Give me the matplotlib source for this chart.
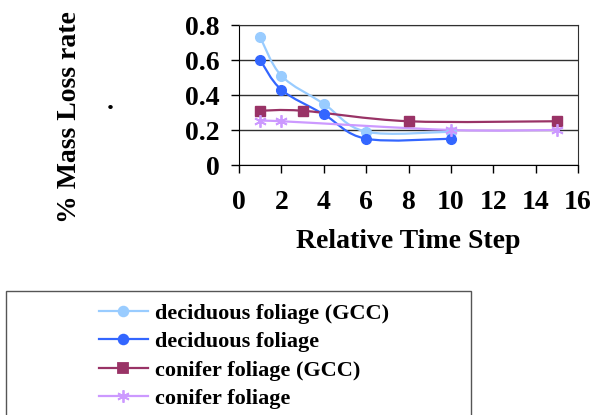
import matplotlib
matplotlib.use('Agg')
import matplotlib.pyplot as plt
import numpy as np
from matplotlib.path import Path
from matplotlib.patches import PathPatch, Rectangle
from matplotlib.lines import Line2D

plt.rcParams['font.family'] = 'Liberation Serif'
plt.rcParams['font.weight'] = 'bold'

# Mass loss rate per relative time step
dec_gcc_x = [1, 2, 4, 6, 10]
dec_gcc_y = [0.73, 0.51, 0.35, 0.19, 0.19]
dec_x = [1, 2, 4, 6, 10]
dec_y = [0.60, 0.43, 0.29, 0.15, 0.15]
con_gcc_x = [1, 3, 8, 15]
con_gcc_y = [0.31, 0.31, 0.25, 0.25]
con_x = [1, 2, 10, 15]
con_y = [0.25, 0.25, 0.20, 0.20]

labels = ['deciduous foliage (GCC)', 'deciduous foliage',
          'conifer foliage (GCC)', 'conifer foliage']
colors = ['#99CCFF', '#3366FF', '#993366', '#CC99FF']
markers = ['o', 'o', 's', (6, 2, 0)]
msizes = [7, 7, 6.5, 9]


def smooth_path(x, y):
    # Catmull-Rom style bezier through the points (like spreadsheet smoothed lines)
    pts = np.column_stack([x, y]).astype(float)
    n = len(pts)
    verts = [pts[0]]
    codes = [Path.MOVETO]
    for i in range(n - 1):
        p0 = pts[i - 1] if i > 0 else pts[i]
        p1 = pts[i]
        p2 = pts[i + 1]
        p3 = pts[i + 2] if i + 2 < n else pts[i + 1]
        c1 = p1 + (p2 - p0) / 6.0
        c2 = p2 - (p3 - p1) / 6.0
        verts += [c1, c2, p2]
        codes += [Path.CURVE4] * 3
    return Path(verts, codes)


fig = plt.figure(figsize=(5.95, 4.15), dpi=100)
ax = fig.add_axes([239 / 595, 1 - 165 / 415, 339 / 595, 140 / 415])

series = [(dec_gcc_x, dec_gcc_y), (dec_x, dec_y), (con_gcc_x, con_gcc_y), (con_x, con_y)]
handles = []
for (xs, ys), c, m, ms, lab in zip(series, colors, markers, msizes, labels):
    ax.add_patch(PathPatch(smooth_path(xs, ys), facecolor='none', edgecolor=c, lw=1.6, zorder=3))
    if m == (6, 2, 0):
        ax.plot(xs, ys, linestyle='none', marker=m, ms=ms, mec=c, mew=1.3, zorder=4)
    else:
        ax.plot(xs, ys, linestyle='none', marker=m, ms=ms, mfc=c, mec=c, zorder=4)
    handles.append(Line2D([], [], color=c, lw=1.6, marker=m, ms=ms, mfc=c, mec=c, mew=1.3))

ax.set_xlim(0, 16)
ax.set_ylim(0, 0.8)
ax.set_xticks(np.arange(0, 17, 2))
ax.set_yticks([0, 0.2, 0.4, 0.6, 0.8])
ax.set_yticklabels(['0', '0.2', '0.4', '0.6', '0.8'])
ax.yaxis.grid(True, color='#303030', lw=1)
ax.set_axisbelow(True)
ax.tick_params(direction='out', length=6, width=1, labelsize=20, color='black')
ax.tick_params(axis='x', pad=12)
ax.tick_params(axis='y', pad=8)
for s in ax.spines.values():
    s.set_color('#303030')
ax.spines['left'].set_color('black')
ax.spines['bottom'].set_color('black')

ax.set_xlabel('Relative Time Step', fontsize=20, fontweight='bold', labelpad=10)
fig.text(70 / 595, 1 - 117 / 415, '% Mass Loss rate', rotation=90, fontsize=20,
         fontweight='bold', ha='center', va='center')
fig.text(110 / 595, 1 - 115 / 415, '.', fontsize=20, fontweight='bold', ha='center', va='bottom')

# legend box runs off the bottom of the figure
fig.patches.append(Rectangle((6 / 595, -0.1), 465 / 595, 0.1 + 1 - 291 / 415,
                             transform=fig.transFigure, facecolor='white',
                             edgecolor='#555555', lw=1))
fig.legend(handles, labels, loc='upper left', bbox_to_anchor=(99 / 595, 1 - 303 / 415),
           frameon=False, handlelength=2.2, handletextpad=0.3,
           labelspacing=0.36, borderpad=0, borderaxespad=0,
           prop={'weight': 'bold', 'size': 16})

fig.savefig('out.png', dpi=100)
